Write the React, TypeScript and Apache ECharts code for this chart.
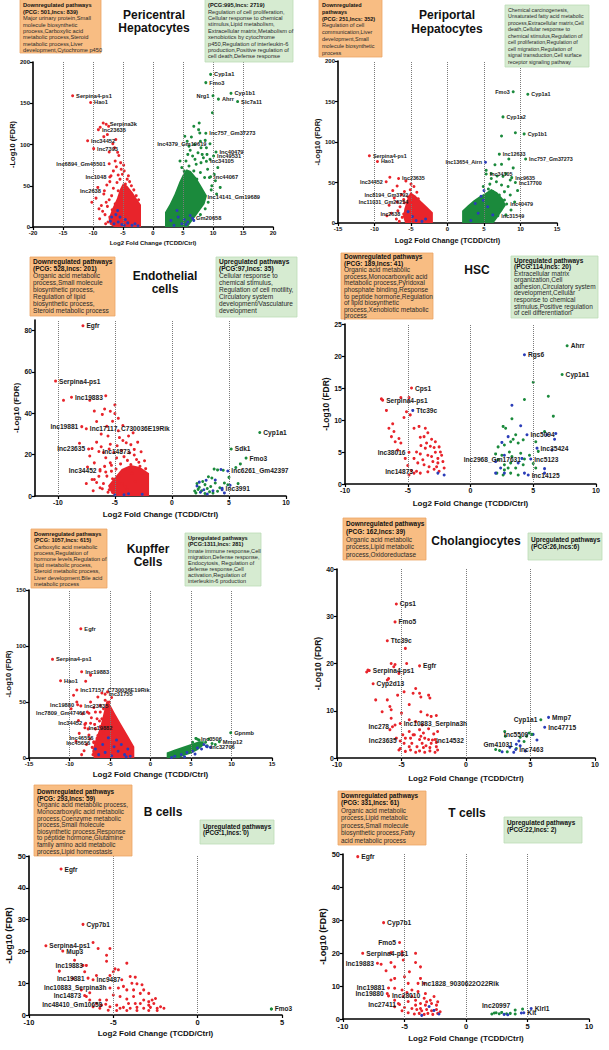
import React, { useEffect, useRef } from "react";
import * as echarts from "echarts";

const FONT = "'Liberation Sans', Arial, Helvetica, sans-serif";
const COL: Record<string, string> = { r: "#e8242b", g: "#1b8a3c", b: "#2b3db8" };
const XNAME = "Log2 Fold Change (TCDD/Ctrl)";
const YNAME = "-Log10 (FDR)";

// ---------------- Pericentral Hepatocytes ----------------
const pcDown = [[-8.2,109.5],[-6.7,101],[-6.4,96],[-5.9,90.5],[-7.3,91],[-5.7,86.7],[-8.8,121],[-7.6,112],[-6.2,106],[-5.3,70],[-4.8,68],[-6.6,68],[-5.8,63],[-5.1,64],[-7.2,55],[-7.7,51],[-6.6,47],[-8.2,40],[-7.8,30],[-6.8,21],[-6.2,16],[-4.3,58],[-4.6,52],[-5.5,58],[-6.0,54],[-5.0,46],[-5.8,44],[-6.9,38],[-7.3,33],[-4.1,62],[-3.6,50],[-5.4,78],[-6.3,80],[-4.9,75],[-7.0,62],[-6.1,73],[-8.6,26],[-9.0,22],[-7.6,25],[-8.0,15],[-7.2,12],[-6.5,8],[-7.5,6],[-9.5,35],[-10.2,30],[-9.2,48],[-8.3,126],[-7.4,122],[-3.2,45],[-2.8,38],[-2.4,33],[-3.9,55],[-4.4,47],[-5.6,37],[-6.3,28],[-8.4,19],[-8.9,10],[-7.9,4]];
const pcDownCore = [[-2,0],[-2,27],[-2.6,33],[-3.4,42],[-4.3,50],[-5.0,53],[-5.5,46],[-6.0,35],[-6.8,22],[-7.4,10],[-7.2,3],[-6.5,0]];
const pcBlue = [[-6.5,4],[-5.8,6],[-5.2,3],[-6.9,12],[-6.2,15],[-5.5,12],[-4.8,2],[-4.2,5],[-3.5,2],[-5.9,20],[-4.6,9],[-3.0,4],[-2.5,1.5],[-7.1,7],[5.8,6],[4.8,4],[5.2,9],[6.2,14],[3.5,2],[4.2,12],[6.8,8],[5.5,3],[4.0,20],[3.0,8]];
const pcUp = [[7.7,126],[7.6,118],[6.4,109],[7.8,114],[5.7,104],[6.9,100],[8.7,105],[8.0,96],[7.5,90],[9.0,88],[6.2,93],[8.4,84],[7.0,82],[5.5,80],[9.5,82],[8.0,78],[6.0,74],[9.1,70],[6.8,68],[7.9,66],[5.2,68],[8.6,60],[10.4,56],[9.8,50],[6.3,60],[7.3,58],[9.9,138.5],[8.2,88],[6.6,86],[7.2,76],[5.8,88],[10.2,64],[9.4,60],[7.9,104],[6.0,98],[8.9,96],[10.8,72],[9.7,45],[4.8,72],[4.5,80],[11.2,48],[10.6,40],[9.2,30],[8.7,22],[7.9,15],[5.3,110],[6.8,122]];
const pcUpCore = [[2,0],[2,18],[2.8,28],[3.6,40],[4.4,55],[5.0,64],[5.6,70],[6.3,68],[7.2,60],[8.2,48],[9.0,38],[8.6,28],[7.6,18],[6.6,8],[5.8,0]];
const pcLabels = [
  ["Serpina4-ps1",-13.4,159,"r","right"],["Hao1",-10.4,151,"r","right"],["Serpina3k",-7.8,124.5,"r","right"],
  ["lnc23635",-9.1,118,"r","right"],["lnc34452",-10.9,104.6,"r","right"],["lnc7393",-9.9,95,"r","right"],
  ["lnc6894_Gm45501",-7.3,76.7,"r","left"],["lnc1048",-7.2,60.6,"r","left"],["lnc2638",-8.1,44,"r","left"],
  ["Cyp1a1",9.6,185,"g","right"],["Fmo3",8.8,175,"g","right"],["Nrg1",10.0,159,"g","left"],
  ["Ahrr",10.9,155,"g","right"],["Cyp1b1",13.0,162,"g","right"],["Slc7a11",14.1,152,"g","right"],
  ["lnc757_Gm37273",8.8,113.6,"g","right"],["lnc4379_Gm19619",9.5,101,"g","left"],["lnc40479",10.5,91,"g","right"],
  ["lnc49531",10.1,86,"g","right"],["lnc34105",8.9,79.6,"g","right"],["lnc44067",9.6,61,"g","right"],
  ["lnc14141_Gm19689",8.5,36,"g","right"],["Gm20658",6.6,10.5,"b","right"],
];
const pcDownText = ["Downregulated pathways","(PCG: 501,lncs: 839)","Major urinary protein,Small","molecule biosynthetic","process,Carboxylic acid","metabolic process,Steroid","metabolic process,Liver","development,Cytochrome p450"];
const pcUpText = ["(PCG:995,lncs: 2719)","Regulation of cell proliferation,","Cellular response to chemical","stimulus,Lipid metabolism,","Extracellular matrix,Metabolism of","xenobiotics by cytochrome","p450,Regulation of interleukin-6","production,Positive regulation of","cell death,Defense response"];

// ---------------- Periportal Hepatocytes ----------------
const ppDown = [[-7.9,56.5],[-6.9,45.7],[-5.9,38.8],[-5.1,41],[-5.4,32.5],[-7.3,30.9],[-5.9,25],[-6.5,20],[-6.8,15],[-5.5,18],[-6.2,7],[-7.0,5],[-6.6,2],[-8.0,22],[-4.6,45],[-5.0,48],[-4.2,38],[-5.7,52],[-6.3,35],[-7.5,40],[-7.7,12],[-8.3,9],[-6.0,29],[-4.0,30],[-6.9,26]];
const ppDownCore = [[-2,0],[-2,13],[-2.8,20],[-3.6,27],[-4.4,34],[-5.1,38],[-5.5,30],[-5.9,18],[-6.1,8],[-5.8,0]];
const ppBlue = [[-4.3,3],[-3.5,2],[-4.8,8],[-3.0,5],[-5.4,14],[5.0,40],[4.6,33],[3.2,3],[4.2,12],[5.5,20],[6.2,10],[3.8,24],[4.9,28]];
const ppUp = [[9.3,111.5],[7.4,107.5],[8.4,79],[7.4,72.4],[8.0,61],[6.8,58],[7.6,57.6],[8.6,53],[6.0,55],[6.7,51],[7.4,47],[8.3,45],[5.3,65],[6.0,61],[7.8,38.7],[8.6,34.6],[6.2,38.7],[7.1,34.6],[7.8,28.4],[8.7,16],[7.3,16],[6.6,8],[9.0,68],[6.5,72],[5.8,48],[9.6,40],[9.2,26],[8.0,10],[4.9,45],[5.6,42]];
const ppUpCore = [[2,0],[2,15],[2.8,22],[3.6,28],[4.4,33],[5.2,37],[6.0,42],[6.8,38],[7.6,30],[8.0,22],[7.4,14],[6.8,6],[6.3,0]];
const ppLabels = [
  ["Fmo3",9.0,162,"g","left"],["Cyp1a1",11.0,159,"g","right"],["Cyp1a2",7.6,131,"g","right"],["Cyp1b1",10.5,110,"g","right"],
  ["lnc12633",7.1,85,"g","right"],["lnc13654_Airn",5.2,75,"b","left"],["lnc757_Gm37273",10.7,79,"g","right"],
  ["lnc34105",5.3,60.5,"g","right"],["lnc9635",8.8,56,"g","right"],["lnc17700",9.3,50,"g","right"],
  ["lnc40479",8.1,23.5,"g","right"],["lnc31549",6.9,9,"g","right"],
  ["Serpina4-ps1",-10.7,83,"r","right"],["Hao1",-9.6,76,"r","right"],["lnc23635",-6.7,55,"r","right"],
  ["lnc34452",-8.4,51,"r","left"],["lnc8194_Gm3792",-4.9,34.5,"r","left"],["lnc11031_Gm26254",-4.9,26,"r","left"],
  ["lnc2638",-6.0,11,"r","left"],
];
const ppDownText = ["Downregulated","pathways","(PCG: 251,lncs: 352)","Regulation of cell","communication,Liver","development,Small","molecule biosynthetic","process"];
const ppUpText = ["Chemical carcinogenesis,","Unsaturated fatty acid metabolic","process,Extracellular matrix,Cell","death,Cellular response to","chemical stimulus,Regulation of","cell proliferation,Regulation of","cell migration,Regulation of","signal transduction,Cell surface","receptor signaling pathway"];

// ---------------- Endothelial cells ----------------
const enDown = [[-9.5,46.2],[-7.2,46.2],[-5.8,48.4],[-5.4,40.9],[-5.0,39.8],[-5.2,36.1],[-6.6,36],[-5.7,33.7],[-4.7,31.5],[-6.2,29.9],[-8.1,25.5],[-7.0,22.9],[-5.4,25],[-4.6,28.2],[-4.0,25.7],[-3.7,20.9],[-7.2,19.3],[-6.8,16.0],[-6.3,12.8],[-5.4,16.0],[-4.85,18.4],[-5.7,9.6],[-5.0,5.5],[-4.6,9.6],[-4.1,12.8],[-3.6,15.2],[-3.1,17.6],[-2.8,14.4],[-3.9,3.1],[-6.0,6],[-5.5,3],[-4.4,22],[-3.3,22.5],[-4.2,19],[-6.0,21],[-5.1,21],[-6.6,26],[-4.3,34],[-3.8,29],[-5.6,29],[-4.9,13],[-3.5,11],[-5.3,12],[-6.8,8],[-7.4,14],[-4.4,6],[-3.2,7],[-2.6,11],[-2.4,17],[-3.0,26],[-5.9,42],[-6.8,41],[-5.0,44],[-4.1,4.5],[-4.8,1.5],[-3.6,1],[-5.6,1.8],[-6.3,4],[-6.9,2.5],[-7.5,6],[-4.5,15.5],[-3.9,17.2],[-5.8,18.5],[-6.4,9.5],[-5.2,8.3],[-4.3,26.8],[-3.3,19.8],[-2.7,21.4],[-2.3,13.2],[-5.9,14.3],[-5.5,22.7],[-4.8,24.3],[-6.2,23.8],[-3.6,24.8],[-2.9,16.3],[-4.7,37.5],[-6.1,39.4],[-3.4,30.5],[-6.6,6.5],[-7.0,8.0],[-6.1,3.5],[-5.8,11.6],[-5.3,14.8]];
const enDownCore = [[-2,0],[-2,11],[-2.8,14],[-3.6,15],[-4.4,13],[-5.0,9],[-5.6,5],[-5.3,1.2],[-4.9,0]];
const enBlue = [[3.0,7.6],[2.4,6.7],[3.8,7.7],[4.3,12.8],[2.2,4.8],[2.8,3.0],[3.6,2.5],[4.4,3.0],[5.1,5.2],[2.5,1.8],[4.6,1.5],[3.1,1.0],[-5.0,0.5],[-4.2,0.6],[-3.8,1.1],[-2.6,0.8]];
const enUp = [[3.7,13],[4.0,12.6],[4.5,12.4],[3.2,9.3],[3.5,8.7],[2.2,6.0],[2.4,4.2],[2.6,2.5],[2.9,5.5],[3.1,3.6],[3.3,2.0],[2.0,2.4],[2.1,1.5],[3.8,6.3],[4.2,4.0],[4.6,6.3],[4.9,5.4],[3.6,1.4],[4.0,2.3],[2.7,7.0],[5.6,13.8],[6.0,15.5],[5.0,9.0],[5.8,6.0],[2.3,3.2],[2.9,1.2],[3.4,4.6]];
const enLabels = [
  ["Egfr",-7.8,82.2,"r","right"],["Serpina4-ps1",-10.2,55.5,"r","right"],["lnc19883",-8.8,47.7,"r","right"],
  ["lnc19881",-7.9,33.5,"r","left"],["lnc17117_C730036E19Rik",-7.5,32.5,"r","right"],["lnc23635",-7.3,22.7,"r","left"],
  ["lnc14873",-6.4,21.5,"r","right"],["lnc34452",-6.3,12.1,"r","left"],
  ["Cyp1a1",7.7,30.7,"g","right"],["Sdk1",5.2,22.7,"g","right"],["Fmo3",6.5,18.3,"g","right"],
  ["lnc6261_Gm42397",4.9,12.1,"b","right"],["lnc3991",4.4,3.7,"b","right"],
];
const enDownText = ["Downregulated pathways","(PCG: 528,lncs: 201)","Organic acid metabolic","process,Small molecule","biosynthetic process,","Regulation of lipid","biosynthetic process,","Steroid metabolic process"];
const enUpText = ["Upregulated pathways","(PCG:97,lncs: 35)","Cellular response to","chemical stimulus,","Regulation of cell motility,","Circulatory system","development/Vasculature","development"];

// ---------------- HSC ----------------
const hsDown = [[-7.1,13.3],[-5.55,13.5],[-4.9,13.5],[-6.7,11.5],[-5.3,10.4],[-4.8,10.8],[-5.1,11.3],[-6.2,9.4],[-6.1,8.2],[-5.7,7.1],[-5.55,6.4],[-4.1,9.0],[-4.5,8.7],[-3.6,8.7],[-3.4,8.0],[-4.0,7.3],[-3.1,7.0],[-3.2,5.9],[-3.6,5.6],[-2.9,5.7],[-2.5,5.8],[-2.8,4.97],[-4.0,4.7],[-3.4,4.5],[-4.5,4.0],[-4.2,3.3],[-3.7,3.0],[-3.0,3.5],[-2.6,3.3],[-2.2,3.5],[-2.1,2.5],[-2.5,2.0],[-2.9,2.3],[-3.4,1.9],[-4.0,1.7],[-4.5,1.7],[-4.9,1.4],[-6.3,7.4],[-6.5,8.7],[-6.0,6.6],[-5.8,5.3],[-5.2,4.0],[-5.0,2.9],[-4.7,2.1],[-2.3,4.5],[-2.6,4.0],[-3.1,4.3],[-3.5,6.4],[-2.8,6.6],[-2.4,5.0],[-3.95,6.0],[-3.7,7.4],[-4.3,5.0],[-3.3,2.7],[-2.7,2.7],[-3.8,3.8]];
const hsBlue = [[4.0,9.1],[6.1,7.7],[6.8,7.9],[6.7,7.0],[6.5,5.3],[5.9,2.4],[2.7,4.5],[2.0,3.5],[2.4,2.5],[2.7,1.7],[3.8,3.3],[4.3,1.7],[5.9,1.7],[3.0,7.4],[2.5,6.5],[2.0,1.7],[4.1,4.0],[3.3,12.3],[-2.6,1.7],[-2.1,1.4]];
const hsUp = [[4.3,13.2],[6.2,13.7],[3.3,10.2],[6.6,10.6],[2.6,9.0],[2.8,8.7],[3.6,7.7],[3.4,7.0],[2.2,5.8],[2.7,6.1],[3.2,6.6],[3.8,6.4],[4.2,6.9],[5.2,6.6],[5.9,8.2],[5.4,5.1],[3.1,5.0],[2.5,4.5],[3.3,4.3],[4.0,4.8],[2.2,3.8],[2.7,3.0],[3.2,3.3],[3.6,2.5],[4.2,3.0],[5.2,2.5],[2.1,1.7],[2.6,1.4],[3.2,1.7],[3.8,1.4],[2.7,2.2],[4.7,4.5],[5.0,3.2],[3.0,2.5],[2.0,4.7],[5.0,15.9]];
const hsLabels = [
  ["Ahrr",7.7,21.6,"g","right"],["Rgs6",4.3,20.2,"b","right"],["Cyp1a1",7.3,17.1,"g","right"],
  ["Cps1",-4.7,15.0,"r","right"],["Serpina4-ps1",-7.0,13.1,"r","right"],["Ttc39c",-4.6,11.5,"b","right"],
  ["lnc38016",-4.9,4.95,"r","left"],["lnc14873",-4.3,2.0,"r","left"],
  ["lnc5094",4.5,7.7,"b","right"],["lnc35424",5.3,5.6,"b","right"],["lnc2968_Gm17631",4.3,3.9,"g","left"],
  ["lnc5123",4.8,3.9,"b","right"],["lnc14125",4.6,1.4,"b","right"],
];
const hsDownText = ["Downregulated pathways","(PCG: 189,lncs: 41)","Organic acid metabolic","process,Monocarboxylic acid","metabolic process,Pyridoxal","phosphate binding,Response","to peptide hormone,Regulation","of lipid biosynthetic","process,Xenobiotic metabolic","process"];
const hsUpText = ["Upregulated pathways","(PCG:114,lncs: 20)","Extracellular matrix","organization,Cell","adhesion,Circulatory system","development,Cellular","response to chemical","stimulus,Positive regulation","of cell differentiation"];

// ---------------- Kupffer Cells ----------------
const kuDown = [[-7.4,74],[-8.0,68.5],[-9.5,56],[-9.1,50],[-7.4,50],[-6.5,54.5],[-6.2,47],[-6.8,41],[-6.2,41],[-5.6,51.5],[-5.8,44],[-6.6,35],[-6.0,35],[-7.4,31],[-6.8,26],[-6.2,28],[-5.8,22],[-7.6,20.5],[-7.0,14.5],[-6.4,11],[-6.6,5],[-8.2,6.5],[-7.2,9.5],[-8.9,33.5],[-8.4,39.5],[-7.8,41],[-5.3,59],[-5.1,50],[-7.0,45],[-6.0,58],[-8.8,22],[-7.9,12],[-9.2,15],[-8.5,3],[-6.9,30],[-7.3,36],[-5.9,30],[-9.8,44],[-4.8,54],[-6.5,20],[-7.7,26],[-6.3,33],[-5.5,36],[-7.1,3],[-7.5,17],[-8.1,30]];
const kuDownCore = [[-2,0],[-2,10],[-2.8,20],[-3.6,30],[-4.4,40],[-5.0,48],[-5.4,52],[-5.8,40],[-6.2,28],[-6.8,16],[-7.2,6],[-7.0,0]];
const kuBlue = [[-6.4,3],[-5.6,5],[-4.8,2],[-4.0,6],[-3.2,3],[-2.5,1.5],[-5.9,12],[-4.5,10],[-3.6,12],[-2.8,8],[-6.8,8],[-5.2,18],[-4.2,16],[-3.0,1],[3.0,1.5],[3.8,3],[4.5,5],[5.2,6],[5.8,9],[6.3,8],[6.9,10.5],[4.2,1],[5.5,3.5],[6.6,12],[7.4,9.5],[2.6,0.5]];
const kuUpCore = [[2,0],[2,5],[3,7.5],[4,10],[5,12.5],[6,15],[6.6,15],[6.5,11],[5.8,7],[5.0,4],[4.0,1.5],[3.5,0]];
const kuUp = [[6.0,16],[6.8,14],[7.2,17],[7.6,13],[5.6,17.5],[8.0,12],[6.4,12.5],[7.0,11],[5.2,14]];
const kuLabels = [
  ["Egfr",-8.6,115.4,"r","right"],["Serpina4-ps1",-12.1,88.1,"r","right"],["lnc19883",-8.5,77,"r","right"],
  ["Hao1",-11.1,69,"r","right"],["lnc17157_C730036E19Rik",-9.1,60.7,"r","right"],["lnc31755",-5.6,56.9,"r","right"],
  ["lnc19880",-9.0,47.5,"r","left"],["lnc23635",-8.6,46.5,"r","right"],["lnc7809_Gm47466",-7.6,39.9,"r","left"],
  ["lnc34452",-8.0,31,"r","left"],["lnc19882",-8.1,27,"r","right"],["lnc46556",-6.6,17.6,"r","left"],
  ["lnc45656",-7.0,13.7,"r","left"],
  ["Gpnmb",9.9,22.6,"g","right"],["lnc3506",5.8,16.7,"g","right"],["Mmp12",8.5,14.6,"g","right"],["lnc32706",7.0,10.1,"b","right"],
];
const kuDownText = ["Downregulated pathways","(PCG: 1057,lncs: 615)","Carboxylic acid metabolic","process,Regulation of","hormone levels,Regulation of","lipid metabolic process,","Steroid metabolic process,","Liver development,Bile acid","metabolic process"];
const kuUpText = ["Upregulated pathways","(PCG:1311,lncs: 281)","Innate immune response,Cell","migration,Defense response,","Endocytosis, Regulation of","defense response,Cell","activation,Regulation of","interleukin-6 production"];

// ---------------- Cholangiocytes ----------------
const chDown = [[-4.7,23.2],[-7.6,18.6],[-5.8,20],[-5.6,19.3],[-4.6,20],[-6.0,16.8],[-5.2,17.9],[-3.9,14.7],[-4.1,13.7],[-3.6,13.7],[-4.4,11.3],[-7.0,12.3],[-6.1,12.3],[-5.3,13.3],[-3.5,12.9],[-2.9,13.3],[-2.8,12.7],[-6.5,9.8],[-5.9,10.9],[-5.8,10.2],[-5.0,9.5],[-3.5,9.8],[-3.0,9.1],[-2.7,8.8],[-2.3,9.0],[-5.8,8.4],[-4.4,8.1],[-3.9,7.7],[-3.4,7.0],[-5.5,7.0],[-5.9,6.0],[-4.9,4.9],[-4.4,5.6],[-4.0,4.9],[-3.6,6.0],[-3.3,5.3],[-2.9,6.2],[-2.5,5.1],[-2.2,5.6],[-4.8,3.1],[-4.2,3.1],[-3.8,2.4],[-3.4,3.1],[-3.1,2.6],[-2.7,3.1],[-2.3,2.4],[-5.2,1.7],[-4.7,1.4],[-4.3,1.7],[-3.9,1.2],[-3.6,1.5],[-3.2,1.2],[-2.8,1.5],[-2.4,1.2],[-2.2,1.7],[-4.7,4.2],[-4.3,4.2],[-3.2,4.2],[-5.4,4.2],[-5.1,2.0],[-3.6,3.9],[-2.9,3.9],[-2.4,3.9],[-4.4,2.4],[-3.3,2.2],[-2.8,2.2],[-2.3,3.3],[-4.1,4.9],[-3.5,4.6],[-6.1,16.5],[-4.8,14.0],[-7.7,18.2],[-5.5,19.8]];
const chBlue = [[2.8,1.3],[3.7,1.2],[4.2,2.6],[4.1,3.6],[5.2,5.0],[5.5,3.8],[3.4,2.3],[4.6,1.5]];
const chUp = [[3.0,5.6],[3.05,4.6],[2.3,1.8],[2.6,1.6],[3.2,1.3],[4.7,4.6],[4.9,5.3],[4.2,4.4],[3.9,2.0],[4.5,3.5]];
const chLabels = [
  ["Cps1",-5.4,32.6,"r","right"],["Fmo5",-5.5,28.8,"r","right"],["Ttc39c",-6.1,24.8,"r","right"],
  ["Egfr",-3.6,19.5,"r","right"],["Serpina4-ps1",-7.5,18.5,"r","right"],["Cyp2d13",-7.2,15.7,"r","right"],
  ["lnc278",-5.7,6.6,"r","left"],["lnc10883_Serpina3h",-5.1,7.3,"r","right"],["lnc23635",-5.1,3.6,"r","left"],
  ["lnc14532",-2.6,3.8,"r","right"],
  ["Cyp1a1",5.8,8.1,"g","left"],["Mmp7",6.4,8.6,"b","right"],["lnc47715",6.1,6.5,"b","right"],
  ["lnc5509",5.1,5.0,"g","left"],["Gm41031",3.9,2.9,"b","left"],["lnc7463",3.85,1.8,"b","right"],
];
const chDownText = ["Downregulated pathways","(PCG: 162,lncs: 39)","Organic acid metabolic","process,Lipid metabolic","process,Oxidoreductase"];
const chUpText = ["Upregulated pathways","(PCG:26,lncs:6)"];

// ---------------- B cells ----------------
const bcDown = [[-6.2,22.8],[-5.9,20.9],[-5.2,20.9],[-5.4,18.8],[-5.4,16.9],[-7.3,17.2],[-8.2,13.8],[-6.7,13.6],[-6.0,12.4],[-6.8,15.6],[-4.2,16.3],[-4.9,14.5],[-5.0,13.6],[-4.7,14.2],[-5.2,12.4],[-4.0,12.1],[-3.7,11.9],[-3.6,9.8],[-3.9,10.0],[-4.4,9.0],[-4.7,8.5],[-4.2,7.9],[-3.8,7.9],[-3.4,6.8],[-5.0,6.3],[-4.6,5.8],[-4.2,5.0],[-3.8,5.8],[-3.2,4.7],[-2.9,4.2],[-2.6,3.6],[-2.2,2.6],[-2.0,2.1],[-2.4,2.1],[-2.8,2.4],[-3.2,2.1],[-3.6,2.4],[-4.0,2.1],[-4.4,2.4],[-4.8,3.1],[-5.2,2.6],[-5.7,3.1],[-6.0,3.6],[-6.4,4.7],[-6.6,5.8],[-6.9,7.9],[-5.8,4.7],[-5.4,4.7],[-3.4,3.6],[-2.9,3.1],[-2.7,4.7],[-3.2,7.9],[-4.5,11.1],[-3.3,9.5],[-2.9,6.8],[-2.5,5.2],[-3.7,3.6],[-4.1,3.6],[-4.6,2.1],[-5.3,1.5],[-5.8,2.1],[-6.2,2.6],[-4.8,1.4],[-4.2,1.4],[-3.6,1.4],[-2.9,1.4],[-2.4,1.4],[-7.4,11.5],[-6.4,7.0]];
const bcUp = [[4.37,1.9]];
const bcLabels = [
  ["Egfr",-8.1,45.9,"r","right"],["Cyp7b1",-6.8,28.5,"r","right"],["Serpina4-ps1",-9.0,21.8,"r","right"],
  ["Mup3",-8.0,20.1,"r","right"],["lnc19883",-6.6,15.6,"r","left"],["lnc19881",-6.5,11.6,"r","left"],
  ["lnc9487",-6.2,11.1,"r","right"],["lnc10883_Serpina3h",-5.2,8.5,"r","left"],["lnc14873",-6.7,6.1,"r","left"],
  ["lnc48410_Gm10658",-5.45,3.4,"r","left"],["Fmo3",4.37,1.9,"g","right"],
];
const bcDownText = ["Downregulated pathways","(PCG: 293,lncs: 59)","Organic acid metabolic process,","Monocarboxylic acid metabolic","process,Coenzyme metabolic","process,Small molecule","biosynthetic process,Response","to peptide hormone,Glutamine","family amino acid metabolic","process,Lipid homeostasis"];
const bcUpText = ["Upregulated pathways","(PCG:1,lncs: 0)"];

// ---------------- T cells ----------------
const tcDown = [[-6.1,20.1],[-5.2,20.4],[-5.2,19.4],[-4.1,19.9],[-6.1,17.1],[-5.1,17.9],[-6.5,14.6],[-5.8,15.8],[-4.6,14.3],[-4.1,17.1],[-3.7,15.8],[-6.1,11.8],[-5.8,12.3],[-5.0,12.8],[-4.7,10.8],[-3.7,12.3],[-3.4,10.8],[-5.8,9.3],[-5.2,8.8],[-4.4,8.8],[-3.9,8.3],[-3.3,7.7],[-2.9,5.7],[-5.1,6.8],[-4.7,5.3],[-4.1,5.7],[-3.7,4.7],[-3.3,4.2],[-2.8,4.7],[-2.4,4.2],[-2.3,5.2],[-5.5,4.7],[-5.0,3.5],[-4.4,3.2],[-4.0,2.9],[-3.6,2.5],[-3.2,2.9],[-2.8,2.5],[-2.4,2.9],[-2.1,2.2],[-5.2,2.5],[-4.7,1.9],[-4.2,1.5],[-3.8,1.7],[-3.4,1.4],[-3.1,1.7],[-2.7,1.4],[-2.3,1.7],[-5.8,5.7],[-4.8,8.0],[-4.4,6.8],[-3.4,6.3],[-2.6,6.8],[-5.8,3.7],[-4.1,4.2],[-3.7,3.2],[-3.2,5.2],[-6.9,16.6]];
const tcBlue = [[-3.0,3.8],[-2.6,2.6],[-2.2,1.5],[-3.6,1.1],[3.1,1.4],[3.4,1.3],[4.5,1.8]];
const tcUp = [[2.1,1.5],[2.3,1.8],[2.7,1.6],[2.9,2.0],[3.3,1.6],[4.0,2.7],[4.0,1.5],[4.6,3.0],[3.6,1.7]];
const tcLabels = [
  ["Egfr",-8.8,49.2,"r","right"],["Cyp7b1",-6.7,29.2,"r","right"],["Fmo5",-5.4,23.2,"r","left"],
  ["Serpina4-ps1",-8.4,19.9,"r","right"],["lnc19883",-7.2,16.9,"r","left"],["lnc1828_9030622O22Rik",-3.9,10.8,"r","right"],
  ["lnc19881",-6.3,9.4,"r","left"],["lnc19880",-6.4,7.7,"r","left"],["lnc28010",-6.3,7.0,"r","right"],
  ["lnc27411",-5.4,4.4,"r","left"],["lnc20997",2.45,1.9,"g","top"],["Klrl1",5.3,3.2,"b","right"],["Kit",4.7,1.9,"b","right"],
];
const tcDownText = ["Downregulated pathways","(PCG: 331,lncs: 61)","Organic acid metabolic","process,Lipid metabolic","process,Small molecule","biosynthetic process,Fatty","acid metabolic process"];
const tcUpText = ["Upregulated pathways","(PCG:22,lncs: 2)"];

// ---------------- layout (positions / styles) ----------------
const panels: any[] = [
  { title:["Pericentral","Hepatocytes"], tx:154, ty:15, tgap:13, grid:[33,62,240,165], xr:[-20,20,5], yr:[0,200,50],
    vl:[-15,-10,-5,0,5,10,15], tick:6, xnf:6, ynf:7.5, xng:13, yng:16, lf:5.7,
    down:pcDown, downCore:pcDownCore, blue:pcBlue, up:pcUp, upCore:pcUpCore, labels:pcLabels,
    boxes:[{x:20,y:-5,w:81,h:58,k:"o",c0:5.5,lh:6.4,f:5.7,nb:2,t:pcDownText},{x:205,y:-5,w:88,h:67,k:"g",c0:5.2,lh:6.4,f:5.7,nb:1,t:pcUpText}] },
  { title:["Periportal","Hepatocytes"], tx:447, ty:15, tgap:14, grid:[338,61,219,162], xr:[-15,15,5], yr:[0,200,50],
    vl:[-10,-5,0,5,10], tick:6, xnf:7.3, ynf:7.5, xng:14, yng:16, lf:5.4,
    down:ppDown, downCore:ppDownCore, blue:ppBlue, up:ppUp, upCore:ppUpCore, labels:ppLabels,
    boxes:[{x:319,y:-5,w:63,h:62,k:"o",c0:5,lh:6.8,f:5.5,nb:3,t:ppDownText},{x:505,y:5,w:84,h:62,k:"g",c0:10,lh:6.45,f:5.3,nb:0,t:ppUpText}] },
  { title:["Endothelial","cells"], tx:165, ty:276, tgap:12.5, grid:[35,320,251,176], xr:[-12,10,5], yr:[0,85,20],
    xticks:[-10,-5,0,5,10], yticks:[0,20,40,60,80],
    vl:[-10,-5,0,5], tick:6.8, xnf:8, ynf:8, xng:14, yng:14, lf:6.6,
    down:enDown, downCore:enDownCore, blue:enBlue, up:enUp, upCore:null, labels:enLabels,
    boxes:[{x:30,y:257,w:85,h:59,k:"o",c0:261.7,lh:6.9,f:6.6,nb:2,t:enDownText},{x:216,y:257,w:81,h:60,k:"g",c0:261.7,lh:6.9,f:6.6,nb:2,t:enUpText}] },
  { title:["HSC"], tx:477, ty:270, tgap:0, grid:[345,324,251,160], xr:[-10,10,5], yr:[0,25,5],
    vl:[-5,0,5], tick:7, xnf:8, ynf:8.5, xng:15, yng:13, lf:6.6,
    down:hsDown, downCore:null, blue:hsBlue, up:hsUp, upCore:null, labels:hsLabels,
    boxes:[{x:341,y:253,w:92,h:66,k:"o",c0:256.5,lh:6.6,f:6.5,nb:2,t:hsDownText},{x:511,y:256,w:87,h:62,k:"g",c0:260,lh:6.6,f:6.5,nb:2,t:hsUpText}] },
  { title:["Kupffer","Cells"], tx:148, ty:549, tgap:13, grid:[29,590,243,168], xr:[-15,15,5], yr:[0,150,50],
    vl:[-10,-5,0,5,10], tick:6, xnf:8, ynf:7.5, xng:12, yng:14, lf:5.7,
    down:kuDown, downCore:kuDownCore, blue:kuBlue, up:kuUp, upCore:kuUpCore, labels:kuLabels,
    boxes:[{x:31,y:529,w:76,h:59,k:"o",c0:534.3,lh:6.2,f:5.6,nb:2,t:kuDownText},{x:185,y:533,w:76,h:53,k:"g",c0:538.3,lh:6.1,f:5.6,nb:2,t:kuUpText}] },
  { title:["Cholangiocytes"], tx:476, ty:541, tgap:0, grid:[337,569,258,189], xr:[-10,10,5], yr:[0,40,10],
    vl:[-5,0,5], tick:7, xnf:8, ynf:8.5, xng:16, yng:14, lf:6.6,
    down:chDown, downCore:null, blue:chBlue, up:chUp, upCore:null, labels:chLabels,
    boxes:[{x:343,y:518,w:83,h:42,k:"o",c0:524,lh:7.6,f:6.5,nb:2,t:chDownText},{x:528,y:533,w:74,h:27,k:"g",c0:539.3,lh:7.4,f:6.5,nb:2,t:chUpText}] },
  { title:["B cells"], tx:163, ty:812, tgap:0, grid:[29,856,253,159], xr:[-10,5,5], yr:[0,50,10],
    vl:[-5,0], tick:7.5, xnf:8, ynf:9, xng:14, yng:11, lf:6.5,
    down:bcDown, downCore:null, blue:[], up:bcUp, upCore:null, labels:bcLabels,
    boxes:[{x:34,y:785,w:98,h:71,k:"o",c0:791.7,lh:6.6,f:6.4,nb:2,t:bcDownText},{x:200,y:820,w:74,h:24,k:"g",c0:826,lh:6.7,f:6.4,nb:2,t:bcUpText}] },
  { title:["T cells"], tx:467, ty:813, tgap:0, grid:[343,854,246,165], xr:[-10,10,5], yr:[0,50,10],
    vl:[-5,0,5], tick:7.5, xnf:8, ynf:9, xng:15, yng:10, lf:6.7,
    down:tcDown, downCore:null, blue:tcBlue, up:tcUp, upCore:null, labels:tcLabels,
    boxes:[{x:338,y:791,w:88,h:54,k:"o",c0:795,lh:7.5,f:6.4,nb:2,t:tcDownText},{x:504,y:817,w:78,h:26,k:"g",c0:822.3,lh:7,f:6.4,nb:2,t:tcUpText}] },
];

function polySeries(pts: number[][], color: string, i: number) {
  return {
    type: "custom", xAxisIndex: i, yAxisIndex: i, silent: true, z: 2,
    data: pts,
    renderItem: (params: any, api: any) => {
      if (params.dataIndex !== 0) return null;
      return { type: "polygon", shape: { points: pts.map((q) => api.coord(q)) }, style: { fill: color } };
    },
  };
}

function scatter(pts: number[][], color: string, i: number, z = 3) {
  return {
    type: "scatter", xAxisIndex: i, yAxisIndex: i, silent: true, z,
    symbol: "circle", symbolSize: 3, itemStyle: { color, opacity: 1 }, data: pts,
  };
}

function buildOption() {
  const grid: any[] = [], xAxis: any[] = [], yAxis: any[] = [], series: any[] = [], graphic: any[] = [];
  panels.forEach((p, i) => {
    grid.push({ left: p.grid[0], top: p.grid[1], width: p.grid[2], height: p.grid[3] });
    const xCustom = p.xticks ? { customValues: p.xticks } : {};
    const yCustom = p.yticks ? { customValues: p.yticks } : {};
    xAxis.push({
      type: "value", gridIndex: i, min: p.xr[0], max: p.xr[1], ...(p.xticks ? {} : { interval: p.xr[2] }),
      name: XNAME, nameLocation: "middle", nameGap: p.xng,
      nameTextStyle: { fontFamily: FONT, fontWeight: "bold", fontSize: p.xnf, color: "#111" },
      axisLine: { onZero: false, lineStyle: { color: "#000", width: 1.6 } },
      axisTick: { length: 3, lineStyle: { color: "#000", width: 1.2 }, ...xCustom },
      axisLabel: { fontFamily: FONT, fontWeight: "bold", fontSize: p.tick, color: "#111", margin: 3, ...xCustom },
      splitLine: { show: false },
    });
    yAxis.push({
      type: "value", gridIndex: i, min: p.yr[0], max: p.yr[1], ...(p.yticks ? {} : { interval: p.yr[2] }),
      name: YNAME, nameLocation: "middle", nameGap: p.yng,
      nameTextStyle: { fontFamily: FONT, fontWeight: "bold", fontSize: p.ynf, color: "#111" },
      axisLine: { show: true, onZero: false, lineStyle: { color: "#000", width: 1.6 } },
      axisTick: { show: true, length: 3, lineStyle: { color: "#000", width: 1.2 }, ...yCustom },
      axisLabel: { fontFamily: FONT, fontWeight: "bold", fontSize: p.tick, color: "#111", margin: 3, ...yCustom },
      splitLine: { show: false },
    });
    series.push({
      type: "line", xAxisIndex: i, yAxisIndex: i, silent: true, z: 1, showSymbol: false,
      data: [[p.xr[0], 0]], lineStyle: { opacity: 0 },
      markLine: {
        silent: true, symbol: ["none", "none"], label: { show: false },
        lineStyle: { type: "dotted", color: "#7a7a7a", width: 1 },
        data: p.vl.map((v: number) => ({ xAxis: v })),
      },
    });
    if (p.downCore) series.push(polySeries(p.downCore, COL.r, i));
    if (p.upCore) series.push(polySeries(p.upCore, COL.g, i));
    series.push(scatter(p.down, COL.r, i));
    series.push(scatter(p.up, COL.g, i));
    if (p.blue.length) series.push(scatter(p.blue, COL.b, i, 4));
    series.push({
      type: "scatter", xAxisIndex: i, yAxisIndex: i, silent: true, z: 5, symbol: "circle", symbolSize: 3,
      data: p.labels.map((l: any[]) => ({
        name: l[0], value: [l[1], l[2]], itemStyle: { color: COL[l[3]], opacity: 1 }, label: { position: l[4] },
      })),
      label: { show: true, formatter: "{b}", fontFamily: FONT, fontWeight: "bold", fontSize: p.lf, color: "#1a1a1a", distance: 2 },
    });
    p.title.forEach((t: string, k: number) => {
      graphic.push({
        type: "text", x: p.tx, y: p.ty + k * p.tgap, z: 20,
        style: { text: t, fill: "#111", font: `bold 12px ${FONT}`, align: "center", verticalAlign: "middle", textAlign: "center", textVerticalAlign: "middle" },
      });
    });
    p.boxes.forEach((b: any) => {
      graphic.push({
        type: "rect", z: 18, shape: { x: b.x, y: b.y, width: b.w, height: b.h },
        style: { fill: b.k === "o" ? "#f8bd83" : "#d6ebd1", stroke: b.k === "o" ? "#eba566" : "#bddcb6", lineWidth: 0.8 },
      });
      const txt = b.t.map((s: string, k: number) => (k < b.nb ? `{b|${s}}` : `{n|${s}}`)).join("\n");
      graphic.push({
        type: "text", z: 19, x: b.x + 3, y: b.c0 - b.lh / 2,
        style: {
          text: txt, fill: "#222", fontFamily: FONT, fontSize: b.f, lineHeight: b.lh,
          align: "left", verticalAlign: "top", textAlign: "left", textVerticalAlign: "top",
          rich: {
            b: { fontFamily: FONT, fontWeight: "bold", fontSize: b.f, lineHeight: b.lh, fill: "#111", color: "#111" },
            n: { fontFamily: FONT, fontSize: b.f, lineHeight: b.lh, fill: "#2a2a2a", color: "#2a2a2a" },
          },
        },
      });
    });
  });
  return { animation: false, backgroundColor: "#ffffff", grid, xAxis, yAxis, series, graphic };
}

export default function App() {
  const ref = useRef<HTMLDivElement>(null);
  useEffect(() => {
    document.body.style.margin = "0";
    if (!ref.current) return;
    const chart = echarts.init(ref.current, undefined, { renderer: "svg" });
    chart.setOption(buildOption() as any);
    return () => chart.dispose();
  }, []);
  return <div ref={ref} style={{ width: 609, height: 1050 }} />;
}
